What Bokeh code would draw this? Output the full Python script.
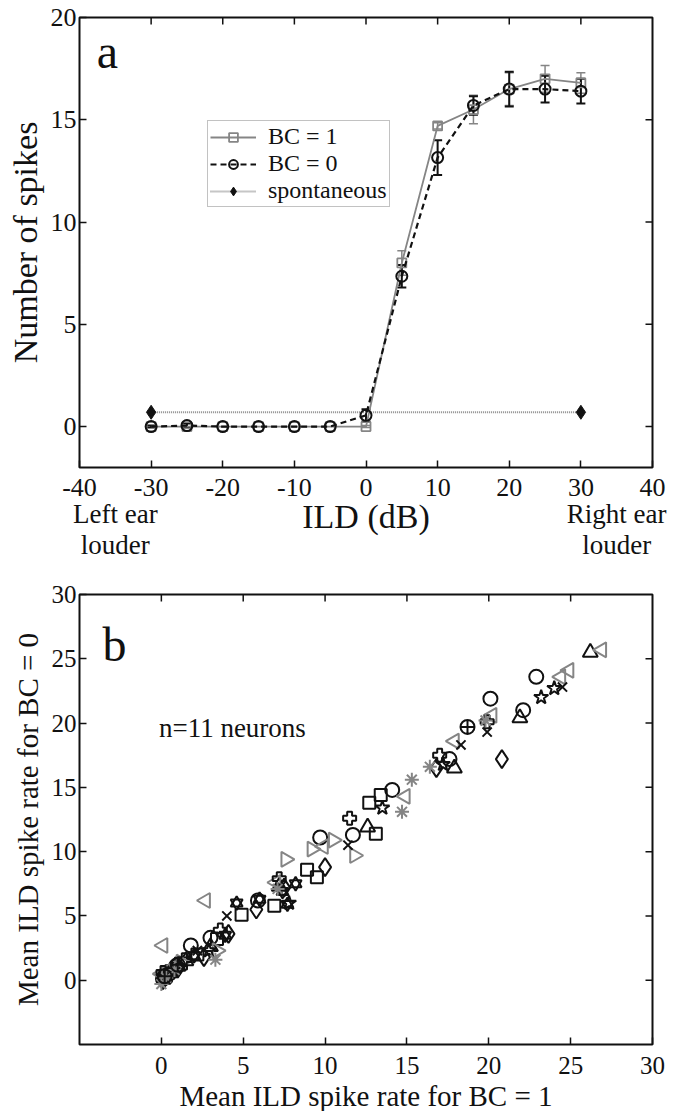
from bokeh.plotting import figure
from bokeh.models import (ColumnDataSource, Whisker, TeeHead, Legend, LegendItem, Label,
                          FixedTicker, Range1d, LinearAxis)
from bokeh.layouts import column
from bokeh.embed import file_html
from bokeh.resources import INLINE

FONT = "Liberation Serif"
BLACK = "#111111"
GRAY = "#858585"

# ---------------- Panel a data ----------------
ild = [-30, -25, -20, -15, -10, -5, 0, 5, 10, 15, 20, 25, 30]
bc1_spikes = [0, 0, 0, 0, 0, 0, 0, 8.0, 14.7, 15.5, 16.5, 17.0, 16.8]
bc1_err = [0, 0, 0, 0, 0, 0, 0.05, 0.6, 0.15, 0.7, 0.8, 0.65, 0.5]
bc0_spikes = [0, 0.05, 0, 0, 0, 0, 0.55, 7.35, 13.15, 15.7, 16.5, 16.5, 16.4]
bc0_err = [0.05, 0.1, 0, 0, 0, 0, 0.3, 0.55, 0.85, 0.45, 0.85, 0.65, 0.6]
spont_ild = [-30, 30]
spont_spikes = [0.7, 0.7]

a_xticks = [-40, -30, -20, -10, 0, 10, 20, 30, 40]
a_yticks = [0, 5, 10, 15, 20]
note_pos = [-35, 35]
note_text = ["Left ear\nlouder", "Right ear\nlouder"]

# ---------------- Panel b data (x: BC = 1, y: BC = 0) ----------------
circ_x = [0.1, 0.4, 0.9, 1.8, 3.0, 5.9, 9.7, 11.7, 14.1, 17.6, 20.1, 22.1, 22.9]
circ_y = [0.1, 0.5, 1.1, 2.7, 3.3, 6.2, 11.1, 11.3, 14.8, 17.2, 21.9, 21.0, 23.6]
sq_x = [0.2, 0.6, 1.2, 2.2, 3.4, 4.9, 6.9, 8.9, 9.5, 12.7, 13.1, 13.4]
sq_y = [0.3, 0.7, 1.3, 2.0, 3.2, 5.1, 5.8, 8.6, 8.0, 13.8, 11.4, 14.4]
dia_x = [0.1, 0.5, 1.0, 2.6, 4.1, 5.8, 7.5, 10.0, 16.8, 20.8]
dia_y = [0.0, 0.4, 0.9, 1.8, 3.6, 5.5, 7.2, 8.8, 16.5, 17.2]
tri_x = [0.2, 0.7, 1.5, 3.0, 7.2, 12.6, 17.9, 21.9, 26.2]
tri_y = [0.2, 0.9, 1.5, 2.6, 7.3, 11.9, 16.5, 20.4, 25.5]
ltri_x = [0.0, 0.1, 0.6, 2.7, 7.0, 9.9, 14.9, 17.9, 20.2, 24.4, 24.9, 26.9]
ltri_y = [0.5, 2.7, 0.9, 6.2, 7.6, 10.4, 14.3, 18.6, 20.6, 23.6, 24.1, 25.7]
rtri_x = [0.3, 1.2, 3.4, 7.6, 9.2, 10.5, 11.8]
rtri_y = [0.5, 1.4, 2.3, 9.4, 10.2, 10.9, 9.7]
star_x = [0.3, 0.7, 2.9, 7.8, 13.5, 17.2, 23.2, 24.0]
star_y = [0.2, 0.8, 2.3, 6.0, 13.4, 16.8, 22.0, 22.7]
hexa_x = [0.5, 1.1, 2.0, 3.9, 4.6, 6.0, 7.7, 8.2, 7.4]
hexa_y = [0.6, 1.0, 1.9, 3.5, 6.0, 6.3, 5.9, 7.5, 6.9]
plus_x = [0.1, 0.4, 1.4, 3.6, 7.2, 11.5, 17.0, 19.9]
plus_y = [0.6, 0.3, 1.6, 3.9, 7.9, 12.6, 17.5, 20.1]
xm_x = [0.0, 0.6, 2.2, 4.0, 7.3, 11.4, 18.3, 19.9, 24.5]
xm_y = [0.1, 0.6, 2.3, 5.0, 7.3, 10.5, 18.3, 19.3, 22.8]
ast_x = [0.0, 0.3, 0.8, 3.3, 7.1, 14.7, 15.3, 16.4, 19.8]
ast_y = [-0.3, 0.2, 0.8, 1.6, 7.1, 13.1, 15.6, 16.6, 20.2]
cc_x = [0.2, 1.0, 18.7]
cc_y = [0.3, 1.2, 19.7]

b_ticks = [0, 5, 10, 15, 20, 25, 30]

FW, FH = 573, 450


def style_axis(ax, ticks, size="26px", standoff=4):
    ax.ticker = FixedTicker(ticks=ticks)
    ax.major_tick_in = 7
    ax.major_tick_out = 0
    ax.minor_tick_in = 0
    ax.minor_tick_out = 0
    ax.axis_line_color = None
    ax.major_tick_line_color = BLACK
    ax.major_tick_line_width = 1.5
    ax.major_label_text_font = FONT
    ax.major_label_text_color = BLACK
    ax.major_label_text_font_size = size
    ax.major_label_standoff = standoff
    ax.major_label_overrides = {t: str(t) for t in ticks}
    ax.axis_label_text_font = FONT
    ax.axis_label_text_font_style = "normal"
    ax.axis_label_text_color = BLACK


def make_fig(xr, yr, top, bottom, **kw):
    p = figure(frame_width=FW, frame_height=FH, x_range=Range1d(*xr), y_range=Range1d(*yr),
               output_backend="svg", toolbar_location=None,
               min_border_left=79, min_border_right=28, min_border_top=top, min_border_bottom=bottom, **kw)
    p.xgrid.visible = False
    p.ygrid.visible = False
    p.outline_line_color = BLACK
    p.outline_line_width = 2
    p.background_fill_color = "white"
    p.border_fill_color = "white"
    return p


def inner_ticks(p, xticks, yticks, xr, yr, L=7):
    # inward tick marks on the top and right edges of the box
    dy = L * (yr[1] - yr[0]) / FH
    dx = L * (xr[1] - xr[0]) / FW
    xt = [t for t in xticks if xr[0] < t < xr[1]]
    yt = [t for t in yticks if yr[0] < t < yr[1]]
    p.segment(x0=xt, y0=[yr[1]] * len(xt), x1=xt, y1=[yr[1] - dy] * len(xt),
              line_color=BLACK, line_width=1.5)
    p.segment(x0=[xr[1]] * len(yt), y0=yt, x1=[xr[1] - dx] * len(yt), y1=yt,
              line_color=BLACK, line_width=1.5)


# ================= Panel a =================
AXR, AYR = (-40, 40), (-2, 20)
pa = make_fig(AXR, AYR, 17, 10, x_axis_location=None)
ax1 = LinearAxis()
style_axis(ax1, a_xticks, size="26px", standoff=11)
ax1.axis_label = "ILD (dB)"
ax1.axis_label_text_font_size = "34px"
ax1.axis_label_standoff = -1
pa.add_layout(ax1, "below")
ax2 = LinearAxis(ticker=FixedTicker(ticks=note_pos))
ax2.major_label_overrides = dict(zip(note_pos, note_text))
ax2.major_tick_in = 0
ax2.major_tick_out = 0
ax2.minor_tick_in = 0
ax2.minor_tick_out = 0
ax2.axis_line_color = None
ax2.major_label_text_font = FONT
ax2.major_label_text_font_size = "27px"
ax2.major_label_text_line_height = 1.04
ax2.major_label_text_color = BLACK
ax2.major_label_standoff = -39
pa.add_layout(ax2, "below")

style_axis(pa.yaxis[0], a_yticks, size="26px", standoff=3)
pa.yaxis[0].axis_label = "Number of spikes"
pa.yaxis[0].axis_label_text_font_size = "34px"
pa.yaxis[0].axis_label_standoff = 4
inner_ticks(pa, a_xticks, a_yticks, AXR, AYR)

# spontaneous
sp_line = pa.line(spont_ild, spont_spikes, line_color="#8c8c8c", line_width=2, line_dash="1 1")
sp_pts = pa.scatter(spont_ild, spont_spikes, marker="diamond", size=14, fill_color=BLACK, line_color=BLACK)


def err_source(xs, ys, es):
    xx, lo, hi = [], [], []
    for x, y, e in zip(xs, ys, es):
        if e > 0:
            xx.append(x); lo.append(y - e); hi.append(y + e)
    return ColumnDataSource(dict(x=xx, lower=lo, upper=hi))


w1 = Whisker(source=err_source(ild, bc1_spikes, bc1_err), base="x", lower="lower", upper="upper",
             line_color=GRAY, line_width=1.5,
             upper_head=TeeHead(size=9, line_color=GRAY, line_width=1.5),
             lower_head=TeeHead(size=9, line_color=GRAY, line_width=1.5))
w0 = Whisker(source=err_source(ild, bc0_spikes, bc0_err), base="x", lower="lower", upper="upper",
             line_color=BLACK, line_width=2,
             upper_head=TeeHead(size=9, line_color=BLACK, line_width=2),
             lower_head=TeeHead(size=9, line_color=BLACK, line_width=2))
pa.add_layout(w1)
pa.add_layout(w0)

l1 = pa.line(ild, bc1_spikes, line_color=GRAY, line_width=1.8)
s1 = pa.scatter(ild, bc1_spikes, marker="square", size=9, fill_color=None, line_color=GRAY, line_width=1.8)
l0 = pa.line(ild, bc0_spikes, line_color=BLACK, line_width=2.2, line_dash="6 4")
s0 = pa.scatter(ild, bc0_spikes, marker="circle", size=11, fill_color=None, line_color=BLACK, line_width=2)

legend = Legend(items=[LegendItem(label="BC = 1", renderers=[l1, s1]),
                       LegendItem(label="BC = 0", renderers=[l0, s0]),
                       LegendItem(label="spontaneous", renderers=[sp_line, sp_pts])],
                location=(128, 260), margin=0, padding=2, spacing=-3,
                glyph_width=46, glyph_height=22, label_height=24, label_standoff=12,
                label_text_font=FONT, label_text_font_size="24px", label_text_color=BLACK,
                label_text_line_height=1.0,
                border_line_color=GRAY, border_line_width=1.2, background_fill_alpha=1.0)
pa.add_layout(legend, "center")

pa.add_layout(Label(x=-37.6, y=18.35, text="a", text_font=FONT, text_font_size="48px",
                    text_color=BLACK, text_baseline="alphabetic"))

# ================= Panel b =================
BXR, BYR = (-5, 30), (-5, 30)
pb = make_fig(BXR, BYR, 32, 10)
style_axis(pb.xaxis[0], b_ticks, size="25px", standoff=12)
style_axis(pb.yaxis[0], b_ticks, size="25px", standoff=3)
pb.xaxis[0].major_label_text_line_height = 1.0
pb.xaxis[0].axis_label = "Mean ILD spike rate for BC = 1"
pb.xaxis[0].axis_label_text_font_size = "29px"
pb.xaxis[0].axis_label_text_line_height = 1.0
pb.xaxis[0].axis_label_standoff = 3
pb.yaxis[0].axis_label = "Mean ILD spike rate for BC = 0"
pb.yaxis[0].axis_label_text_font_size = "29px"
pb.yaxis[0].axis_label_standoff = 5
inner_ticks(pb, b_ticks, b_ticks, BXR, BYR)

groups = [
    (circ_x, circ_y, "circle", 14, BLACK, 0.0),
    (sq_x, sq_y, "square", 12, BLACK, 0.0),
    (dia_x, dia_y, "diamond", 18, BLACK, 0.0),
    (tri_x, tri_y, "triangle", 15, BLACK, 0.0),
    (ltri_x, ltri_y, "triangle", 15, GRAY, 1.5708),
    (rtri_x, rtri_y, "triangle", 15, GRAY, -1.5708),
    (star_x, star_y, "star", 15, BLACK, 0.0),
    (hexa_x, hexa_y, "triangle", 12, BLACK, 0.0),
    (hexa_x, hexa_y, "inverted_triangle", 12, BLACK, 0.0),
    (plus_x, plus_y, "plus", 13, BLACK, 0.0),
    (xm_x, xm_y, "x", 13, BLACK, 0.0),
    (ast_x, ast_y, "asterisk", 14, GRAY, 0.0),
    (cc_x, cc_y, "circle_cross", 14, BLACK, 0.0),
]
for xs, ys, mk, sz, col, ang in groups:
    pb.scatter(xs, ys, marker=mk, size=sz, fill_color=None, line_color=col, line_width=2, angle=ang)

pb.add_layout(Label(x=-3.6, y=26.1, text="b", text_font=FONT, text_font_size="48px",
                    text_color=BLACK, text_baseline="alphabetic"))
pb.add_layout(Label(x=-0.15, y=19.65, text="n=11 neurons", text_font=FONT, text_font_size="27px",
                    text_color=BLACK, text_baseline="alphabetic"))

layout = column(pa, pb, spacing=0)
open("out.html", "w").write(file_html(layout, INLINE))
